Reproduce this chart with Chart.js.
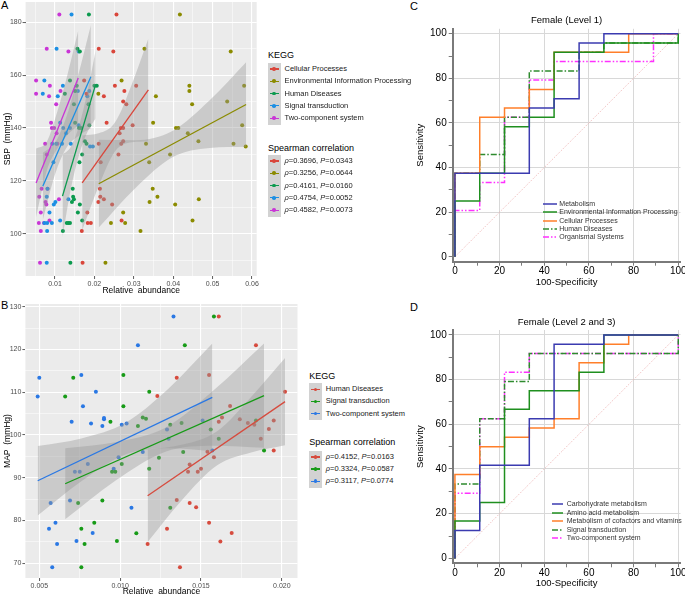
<!DOCTYPE html>
<html>
<head>
<meta charset="utf-8">
<script src="https://cdn.jsdelivr.net/npm/chart.js@4.4.1/dist/chart.umd.min.js"></script>
<style>
  body { margin: 0; background: #fff; width: 685px; height: 597px; position: relative; overflow: hidden;
         font-family: 'Liberation Sans', Arial, Helvetica, sans-serif; }
  canvas { position: absolute; }
  .panel { position: absolute; font-size: 11px; color: #000; line-height: 12px; }
  .lg { position: absolute; white-space: nowrap; color: #1a1a1a; }
</style>
</head>
<body>
<div class="panel" style="left:1px;top:-1px">A</div>
<div class="panel" style="left:1px;top:299px">B</div>
<div class="panel" style="left:410px;top:0px">C</div>
<div class="panel" style="left:410px;top:301px">D</div>

<canvas id="chartA" width="262" height="298" style="left:0;top:0"></canvas>
<canvas id="chartB" width="300" height="299" style="left:0;top:298px"></canvas>
<canvas id="chartC" width="275" height="298" style="left:410px;top:0"></canvas>
<canvas id="chartD" width="275" height="299" style="left:410px;top:298px"></canvas>
<div id="legends"></div>

<script>
// ---------- panel A : SBP vs relative abundance ----------
const aNames = ['Cellular Processes', 'Environmental Information Processing', 'Human Diseases', 'Signal transduction', 'Two-component system'];
const aColors = ['#D9463B', '#8B8B00', '#0B9A4E', '#1C8FE3', '#C935D6'];
const aRho = ['0.3696', '0.3256', '0.4161', '0.4754', '0.4582'];
const aP = ['0.0343', '0.0644', '0.0160', '0.0052', '0.0073'];

const aCellular = [[0.0256,183],[0.0211,170],[0.0248,169],[0.0252,156],[0.0174,158],[0.0224,152],[0.0231,142],[0.0180,153],
  [0.0276,154],[0.0273,150],[0.0281,149],[0.0297,141],[0.0267,140],[0.0273,140],[0.0264,138],[0.0268,134],[0.0273,135],
  [0.0306,156],[0.0261,130],[0.0211,134],[0.0216,127],[0.0214,117],[0.0215,114],[0.0224,113],[0.0210,112],[0.0245,111],
  [0.0182,108],[0.0183,104],[0.0191,104],[0.0168,101],[0.0269,105],[0.0170,89]];
const aEnv = [[0.0417,183],[0.0327,170],[0.0546,169],[0.0269,158],[0.0441,156],[0.0441,154],[0.0580,156],[0.0356,152],
  [0.0537,150],[0.0448,149],[0.0349,142],[0.0407,140],[0.0413,140],[0.0575,141],[0.0437,138],[0.0464,135],[0.0331,134],
  [0.0553,134],[0.0584,133],[0.0339,127],[0.0392,130],[0.0348,117],[0.0360,114],[0.0340,112],[0.0405,111],[0.0465,113],
  [0.0273,108],[0.0242,104],[0.0278,104],[0.0317,101],[0.0449,105],[0.0228,89],[0.0210,153]];
const aHuman = [[0.0186,183],[0.0157,170],[0.0163,169],[0.0138,158],[0.0125,153],[0.0151,154],[0.0155,156],[0.0200,156],
  [0.0206,156],[0.0148,149],[0.0185,149],[0.0161,140],[0.0151,142],[0.0166,140],[0.0187,141],[0.0176,135],[0.0180,134],
  [0.0169,130],[0.0162,127],[0.0145,117],[0.0146,114],[0.0148,113],[0.0143,112],[0.0158,108],[0.0163,111],[0.0134,104],
  [0.0138,104],[0.0130,104],[0.0120,101],[0.0169,105],[0.0139,89]];
const aSignal = [[0.0142,183],[0.0104,170],[0.0073,158],[0.0069,153],[0.0107,152],[0.0120,156],[0.0160,169],[0.0158,154],
  [0.0187,154],[0.0182,152],[0.0113,142],[0.0121,140],[0.0128,138],[0.0138,140],[0.0140,134],[0.0160,141],[0.0103,134],
  [0.0093,134],[0.0096,127],[0.0118,134],[0.0079,114],[0.0081,117],[0.0101,112],[0.0097,111],[0.0086,108],[0.0073,104],
  [0.0080,104],[0.0092,104],[0.0113,105],[0.0080,101],[0.0134,113],[0.0079,89],[0.0189,133],[0.0196,133]];
const aTwoComp = [[0.0111,183],[0.0052,158],[0.0052,153],[0.0079,170],[0.0134,169],[0.0087,156],[0.0085,152],[0.0103,149],
  [0.0114,154],[0.0090,142],[0.0092,140],[0.0098,140],[0.0104,138],[0.0106,134],[0.0075,134],[0.0079,130],[0.0060,114],
  [0.0066,117],[0.0076,112],[0.0064,108],[0.0059,104],[0.0072,104],[0.0086,105],[0.0064,101],[0.0110,113],[0.0062,89],
  [0.0081,117],[0.0078,111]];
const aPoints = [aCellular, aEnv, aHuman, aSignal, aTwoComp];

// fitted lines (end points) and confidence bands
const aLines = [[[0.0169,119.2],[0.0337,154.4]], [[0.0211,118.9],[0.0585,148.9]], [[0.0119,114.2],[0.0203,156.4]],
  [[0.0069,117.9],[0.0191,159.4]], [[0.0052,119.2],[0.0159,158.9]]];
const aBandX = [[0.0169,0.0211,0.0253,0.0295,0.0337], [0.0211,0.0305,0.0398,0.0492,0.0585], [0.0119,0.0140,0.0161,0.0182,0.0203],
  [0.0069,0.0100,0.0130,0.0161,0.0191], [0.0052,0.0079,0.0106,0.0132,0.0159]];
const aBandLo = [[101.2,118.0,131.3,134.6,134.9], [102.3,117.4,128.9,132.4,132.9], [98.5,116.8,129.8,138.4,143.6],
  [105.2,122.4,132.7,137.2,139.9], [106.2,123.7,132.2,137.4,140.9]];
const aBandHi = [[137.2,138.0,142.3,156.6,173.9], [135.5,135.4,138.9,150.4,164.9], [129.9,132.8,140.8,153.4,169.2],
  [130.6,134.4,144.7,161.2,178.9], [132.2,134.7,146.2,160.4,176.9]];
const aXMajor = [0.01, 0.02, 0.03, 0.04, 0.05, 0.06];
const aXMinor = [0.005, 0.015, 0.025, 0.035, 0.045, 0.055];
const aYMajor = [100, 120, 140, 160, 180];
const aYMinor = [90, 110, 130, 150, 170];

// ---------- panel B : MAP vs relative abundance ----------
const bNames = ['Human Diseases', 'Signal transduction', 'Two-component system'];
const bColors = ['#D64B3E', '#179B17', '#2A78E4'];
const bRho = ['0.4152', '0.3324', '0.3117'];
const bP = ['0.0163', '0.0587', '0.0774'];

const bHuman = [[0.0161,127.7],[0.0184,121.0],[0.0123,109.1],[0.0135,113.4],[0.0155,114.0],[0.0202,110.1],[0.0168,106.8],
  [0.0174,103.7],[0.0163,104.1],[0.0161,103.1],[0.0179,102.8],[0.0183,102.4],[0.0195,103.4],[0.0192,101.4],[0.0187,99.1],
  [0.0154,96.1],[0.0158,94.8],[0.0143,93.1],[0.0142,91.4],[0.0148,91.4],[0.0150,92.1],[0.0195,96.4],[0.0135,84.8],
  [0.0143,84.1],[0.0147,83.1],[0.0129,78.1],[0.0155,79.5],[0.0169,77.1],[0.0162,75.1],[0.0137,69.1],[0.0117,74.5]];
const bSignal = [[0.0158,127.7],[0.0140,121.0],[0.0071,113.4],[0.0066,109.0],[0.0102,114.0],[0.0118,110.1],[0.0102,106.7],
  [0.0094,103.1],[0.0111,102.1],[0.0114,104.1],[0.0116,103.8],[0.0131,102.4],[0.0138,102.8],[0.0139,96.0],[0.0124,94.7],
  [0.0101,93.2],[0.0095,91.4],[0.0097,91.4],[0.0118,92.1],[0.0089,84.7],[0.0074,84.1],[0.0131,83.0],[0.0076,78.1],
  [0.0084,79.5],[0.0078,74.5],[0.0098,75.2],[0.0110,77.0],[0.0076,69.1],[0.0156,101.3],[0.0161,99.1],[0.0189,96.4],[0.0184,103.4]];
const bTwoComp = [[0.0133,127.7],[0.0111,121.0],[0.0050,113.4],[0.0049,109.0],[0.0076,114.0],[0.0085,110.1],[0.0070,103.1],
  [0.0077,106.7],[0.0082,102.7],[0.0089,102.1],[0.0090,104.0],[0.0090,103.7],[0.0101,102.4],[0.0104,102.7],[0.0114,96.0],
  [0.0129,101.3],[0.0130,99.1],[0.0151,103.4],[0.0157,96.4],[0.0099,94.8],[0.0096,92.1],[0.0080,93.2],[0.0072,91.4],
  [0.0075,91.4],[0.0069,84.7],[0.0057,84.1],[0.0107,83.0],[0.0056,78.1],[0.0060,79.5],[0.0061,74.5],[0.0073,75.2],
  [0.0083,77.1],[0.0058,69.1]];
const bPoints = [bHuman, bSignal, bTwoComp];
const bLines = [[[0.0117,85.8],[0.0202,107.8]], [[0.0066,88.6],[0.0189,109.2]], [[0.0049,89.3],[0.0157,108.8]]];
const bBandX = [[0.0117,0.0138,0.0160,0.0181,0.0202], [0.0066,0.0097,0.0128,0.0158,0.0189], [0.0049,0.0076,0.0103,0.0130,0.0157]];
const bBandLo = [[75.0,84.7,92.9,95.9,97.6], [80.3,89.3,96.1,97.5,97.0], [81.2,89.2,95.4,96.9,96.2]];
const bBandHi = [[96.6,97.7,100.9,108.9,118.0], [96.9,98.3,101.7,110.5,121.4], [97.4,99.2,102.8,110.9,121.4]];
const bXMajor = [0.005, 0.010, 0.015, 0.020];
const bXMinor = [0.0075, 0.0125, 0.0175];
const bYMajor = [70, 80, 90, 100, 110, 120, 130];
const bYMinor = [75, 85, 95, 105, 115, 125];

// ---------- panels C and D : ROC curves ----------
const rocTicks = [0, 10, 20, 30, 40, 50, 60, 70, 80, 90, 100];
const rocColors = ['#3B3BB0', '#1F8F1F', '#FF7F2A', '#2E8B2E', '#FF30FF'];
const rocDashes = [[], [], [], [6, 2, 1.5, 2], [6, 2, 1.5, 2, 1.5, 2]];

const cNames = ['Metabolism', 'Environmental Information Processing', 'Cellular Processes', 'Human Diseases', 'Organismal Systems'];
const cMetab = [[0,0],[0,37.5],[33.3,37.5],[33.3,66.7],[44.4,66.7],[44.4,70.8],[55.6,70.8],[55.6,95.8],[66.7,95.8],[66.7,100],[100,100]];
const cEnv = [[0,0],[0,25],[11.1,25],[11.1,37.5],[22.2,37.5],[22.2,58.3],[33.3,58.3],[33.3,62.5],[44.4,62.5],[44.4,91.7],[66.7,91.7],[66.7,95.8],[100,95.8],[100,100]];
const cCell = [[0,0],[0,37.5],[11.1,37.5],[11.1,62.5],[22.2,62.5],[22.2,66.7],[33.3,66.7],[33.3,75],[44.4,75],[44.4,91.7],[77.8,91.7],[77.8,100],[100,100]];
const cHuman = [[0,0],[0,37.5],[11.1,37.5],[11.1,45.8],[22.2,45.8],[22.2,62.5],[33.3,62.5],[33.3,83.3],[55.6,83.3],[55.6,91.7],[66.7,91.7],[66.7,95.8],[100,95.8],[100,100]];
const cOrgan = [[0,0],[0,20.8],[11.1,20.8],[11.1,33.3],[22.2,33.3],[22.2,62.5],[33.3,62.5],[33.3,79.2],[44.4,79.2],[44.4,87.5],[88.9,87.5],[88.9,100],[100,100]];

const dNames = ['Carbohydrate metabolism', 'Amino acid metabolism', 'Metabolism of cofactors and vitamins', 'Signal transduction', 'Two-component system'];
const dCarb = [[0,0],[0,12.5],[11.1,12.5],[11.1,41.7],[33.3,41.7],[33.3,62.5],[44.4,62.5],[44.4,95.8],[66.7,95.8],[66.7,100],[100,100]];
const dAmino = [[0,0],[0,16.7],[11.1,16.7],[11.1,25],[22.2,25],[22.2,66.7],[33.3,66.7],[33.3,75],[55.6,75],[55.6,83.3],[66.7,83.3],[66.7,100],[100,100]];
const dCofac = [[0,0],[0,37.5],[11.1,37.5],[11.1,50],[22.2,50],[22.2,54.2],[33.3,54.2],[33.3,58.3],[44.4,58.3],[44.4,62.5],[55.6,62.5],[55.6,87.5],[66.7,87.5],[66.7,95.8],[77.8,95.8],[77.8,100],[100,100]];
const dSignal = [[0,0],[0,33.3],[11.1,33.3],[11.1,62.5],[22.2,62.5],[22.2,79.2],[33.3,79.2],[33.3,91.7],[100,91.7],[100,100]];
const dTwo = [[0,0],[0,29.2],[11.1,29.2],[11.1,62.5],[22.2,62.5],[22.2,83.3],[33.3,83.3],[33.3,91.7],[100,91.7],[100,100]];
const diagonal = [[0,0],[100,100]];

// ---------------------------------------------------------
const FONT = "'Liberation Sans', Arial, Helvetica, sans-serif";
Chart.defaults.font.family = FONT;
Chart.defaults.animation = false;

const xy = arr => arr.map(p => ({x: p[0], y: p[1]}));
const isIn = (arr, v) => arr.some(m => Math.abs(m - v) < 1e-9);

const panelBg = {
  id: 'panelBg',
  beforeDraw(chart) {
    const {ctx, chartArea: a} = chart;
    ctx.save();
    ctx.fillStyle = '#EBEBEB';
    ctx.fillRect(a.left, a.top, a.width, a.height);
    ctx.restore();
  }
};

function ggAxis(o) {
  return {
    type: 'linear', position: o.horiz ? 'bottom' : 'left', min: o.min, max: o.max,
    afterBuildTicks: s => { s.ticks = o.major.concat(o.minor).sort((a, b) => a - b).map(v => ({value: v})); },
    afterFit: s => {
      if (o.horiz) s.height = o.size; else s.width = o.size;
      s.paddingLeft = s.paddingRight = s.paddingTop = s.paddingBottom = 0;
    },
    border: {display: false},
    grid: {
      color: '#ffffff',
      lineWidth: c => (c.tick && isIn(o.major, c.tick.value)) ? 1.1 : 0.5,
      tickColor: c => (c.tick && isIn(o.major, c.tick.value)) ? '#333333' : 'rgba(0,0,0,0)',
      tickLength: 3, tickWidth: 0.8
    },
    ticks: {autoSkip: false, maxRotation: 0, minRotation: 0, padding: 1, color: '#4d4d4d', font: {size: 7},
            callback: v => isIn(o.major, v) ? o.fmt(v) : ''},
    title: {display: true, text: o.title, color: '#000', font: {size: 8.5}, padding: o.titlePad}
  };
}

function ggDatasets(points, colors, lines, bx, lo, hi) {
  const ds = [];
  points.forEach((pts, i) => ds.push({
    data: xy(pts), showLine: false, pointRadius: 2, pointHoverRadius: 2, pointBorderWidth: 0,
    pointBackgroundColor: colors[i], borderColor: colors[i], order: 3
  }));
  bx.forEach((xs, i) => {
    ds.push({data: xs.map((x, k) => ({x, y: lo[i][k]})), borderColor: 'rgba(0,0,0,0)', borderWidth: 0, pointRadius: 0,
             tension: 0.4, cubicInterpolationMode: 'monotone', fill: false, order: 2});
    ds.push({data: xs.map((x, k) => ({x, y: hi[i][k]})), borderColor: 'rgba(0,0,0,0)', borderWidth: 0, pointRadius: 0,
             tension: 0.4, cubicInterpolationMode: 'monotone', fill: '-1', backgroundColor: 'rgba(153,153,153,0.4)', order: 2});
  });
  lines.forEach((ln, i) => ds.push({data: xy(ln), borderColor: colors[i], borderWidth: 1.3, pointRadius: 0, fill: false, order: 1}));
  return ds;
}

const noPlug = {legend: {display: false}, tooltip: {enabled: false}};

new Chart(document.getElementById('chartA'), {
  type: 'line',
  data: {datasets: ggDatasets(aPoints, aColors, aLines, aBandX, aBandLo, aBandHi)},
  options: {
    responsive: false, events: [],
    layout: {padding: {top: 1, right: 5.3, left: 0, bottom: 0}},
    plugins: noPlug,
    scales: {
      x: ggAxis({horiz: true, min: 0.002538, max: 0.06119, major: aXMajor, minor: aXMinor, fmt: v => v.toFixed(2),
                 title: 'Relative  abundance', size: 22, titlePad: {top: 0, bottom: 2.4}}),
      y: ggAxis({horiz: false, min: 83.96, max: 187.7, major: aYMajor, minor: aYMinor, fmt: v => String(v),
                 title: 'SBP  (mmHg)', size: 25.6, titlePad: {top: 2.9, bottom: 0}})
    }
  },
  plugins: [panelBg]
});

new Chart(document.getElementById('chartB'), {
  type: 'line',
  data: {datasets: ggDatasets(bPoints, bColors, bLines, bBandX, bBandLo, bBandHi)},
  options: {
    responsive: false, events: [],
    layout: {padding: {top: 6, right: 2.5, left: 0, bottom: 0}},
    plugins: noPlug,
    scales: {
      x: ggAxis({horiz: true, min: 0.00414, max: 0.02097, major: bXMajor, minor: bXMinor, fmt: v => v.toFixed(3),
                 title: 'Relative  abundance', size: 19, titlePad: {top: 0, bottom: 0}}),
      y: ggAxis({horiz: false, min: 66.56, max: 130.63, major: bYMajor, minor: bYMinor, fmt: v => String(v),
                 title: 'MAP  (mmHg)', size: 25.4, titlePad: {top: 2.9, bottom: 0}})
    }
  },
  plugins: [panelBg]
});

function rocAxis(horiz, size, title, titlePad) {
  return {
    type: 'linear', position: horiz ? 'bottom' : 'left',
    min: horiz ? -1 : -2.2, max: horiz ? 101 : 102.2,
    afterBuildTicks: s => { s.ticks = rocTicks.map(v => ({value: v})); },
    afterFit: s => {
      if (horiz) s.height = size; else s.width = size;
      s.paddingLeft = s.paddingRight = s.paddingTop = s.paddingBottom = 0;
    },
    border: {display: true, color: '#7a7a7a', width: 2},
    grid: {
      color: c => (c.tick && c.tick.value > 0 && c.tick.value % 20 === 0) ? '#d8d8d8' : 'rgba(0,0,0,0)',
      lineWidth: 1, tickColor: '#7a7a7a', tickLength: 4, tickWidth: 1
    },
    ticks: {autoSkip: false, maxRotation: 0, padding: horiz ? 0 : 2, color: '#000', font: {size: 10},
            callback: v => v % 20 === 0 ? String(v) : ''},
    title: {display: true, text: title, color: '#000', font: {size: 9.5}, padding: titlePad}
  };
}

function rocChart(id, series, title, titlePad, xSize, xTitlePad) {
  const ds = series.map((s, i) => ({
    data: xy(s), borderColor: rocColors[i], borderWidth: 1.5, borderDash: rocDashes[i],
    pointRadius: 0, fill: false, tension: 0
  }));
  ds.push({data: xy(diagonal), borderColor: '#E9A0A0', borderWidth: 0.8, borderDash: [1, 1.5], pointRadius: 0, fill: false});
  new Chart(document.getElementById(id), {
    type: 'line',
    data: {datasets: ds},
    options: {
      responsive: false, events: [],
      layout: {padding: {top: 0, right: 4.5, left: 0, bottom: 0}},
      plugins: {
        legend: {display: false}, tooltip: {enabled: false},
        title: {display: true, text: title, fullSize: false, color: '#000', font: {size: 9.5, weight: 'normal'}, padding: titlePad}
      },
      scales: {
        x: rocAxis(true, xSize, '100-Specificity', xTitlePad),
        y: rocAxis(false, 42.7, 'Sensitivity', {top: 4.3, bottom: 0})
      }
    }
  });
}

rocChart('chartC', [cMetab, cEnv, cCell, cHuman, cOrgan], 'Female (Level 1)', {top: 14.3, bottom: 3.1}, 36.3, {top: 0, bottom: 10.3});
rocChart('chartD', [dCarb, dAmino, dCofac, dSignal, dTwo], 'Female (Level 2 and 3)', {top: 19, bottom: 1.6}, 33.7, {top: 0, bottom: 8});

// ---------- legends (HTML) ----------
const host = document.getElementById('legends');
function add(html, style) {
  const d = document.createElement('div');
  d.className = 'lg';
  d.style.cssText = style;
  d.innerHTML = html;
  host.appendChild(d);
}

function ggLegend(x, titleY, rowsY0, title2Y, rows2Y0, rowH, names, colors, rho, pv) {
  add('KEGG', `left:${x}px;top:${titleY - 6}px;font-size:9px;line-height:12px;color:#000`);
  add('Spearman correlation', `left:${x}px;top:${title2Y - 6}px;font-size:9px;line-height:12px;color:#000`);
  const block = (y0, labels) => labels.forEach((t, i) => {
    const y = y0 + i * rowH;
    add(`<div style="position:absolute;left:0;top:0;width:12.5px;height:${rowH + 0.3}px;background:#D2D2D2"></div>` +
        `<div style="position:absolute;left:1.5px;top:${rowH / 2 - 0.6}px;width:9.5px;height:1.2px;background:${colors[i]}"></div>` +
        `<div style="position:absolute;left:4.4px;top:${rowH / 2 - 1.8}px;width:3.6px;height:3.6px;border-radius:50%;background:${colors[i]}"></div>`,
        `left:${x}px;top:${y - rowH / 2}px;width:13px;height:${rowH}px`);
    add(t, `left:${x + 16.5}px;top:${y - 5}px;font-size:7.5px;line-height:10px`);
  });
  block(rowsY0, names);
  block(rows2Y0, rho.map((r, i) => `<i>ρ</i>=${r}, <i>P</i>=${pv[i]}`));
}
ggLegend(268, 55, 69, 147.7, 161, 12.3, aNames, aColors, aRho, aP);
ggLegend(309.3, 375.7, 389.3, 441.7, 457, 12.1, bNames, bColors, bRho, bP);

function rocLegend(x1, x2, tx, y0, rowH, names) {
  names.forEach((t, i) => {
    const y = y0 + i * rowH;
    const dash = rocDashes[i].length ? `stroke-dasharray="${rocDashes[i].join(' ')}"` : '';
    add(`<svg width="${x2 - x1}" height="6"><line x1="0" y1="3" x2="${x2 - x1}" y2="3" stroke="${rocColors[i]}" stroke-width="1.5" ${dash}/></svg>`,
        `left:${x1}px;top:${y - 3}px;line-height:0`);
    add(t, `left:${tx}px;top:${y - 5}px;font-size:7px;line-height:10px;color:#333`);
  });
}
rocLegend(542.7, 556.7, 559.3, 204, 8.33, cNames);
rocLegend(551.7, 563.3, 566.7, 504.3, 8.5, dNames);
</script>
</body>
</html>
